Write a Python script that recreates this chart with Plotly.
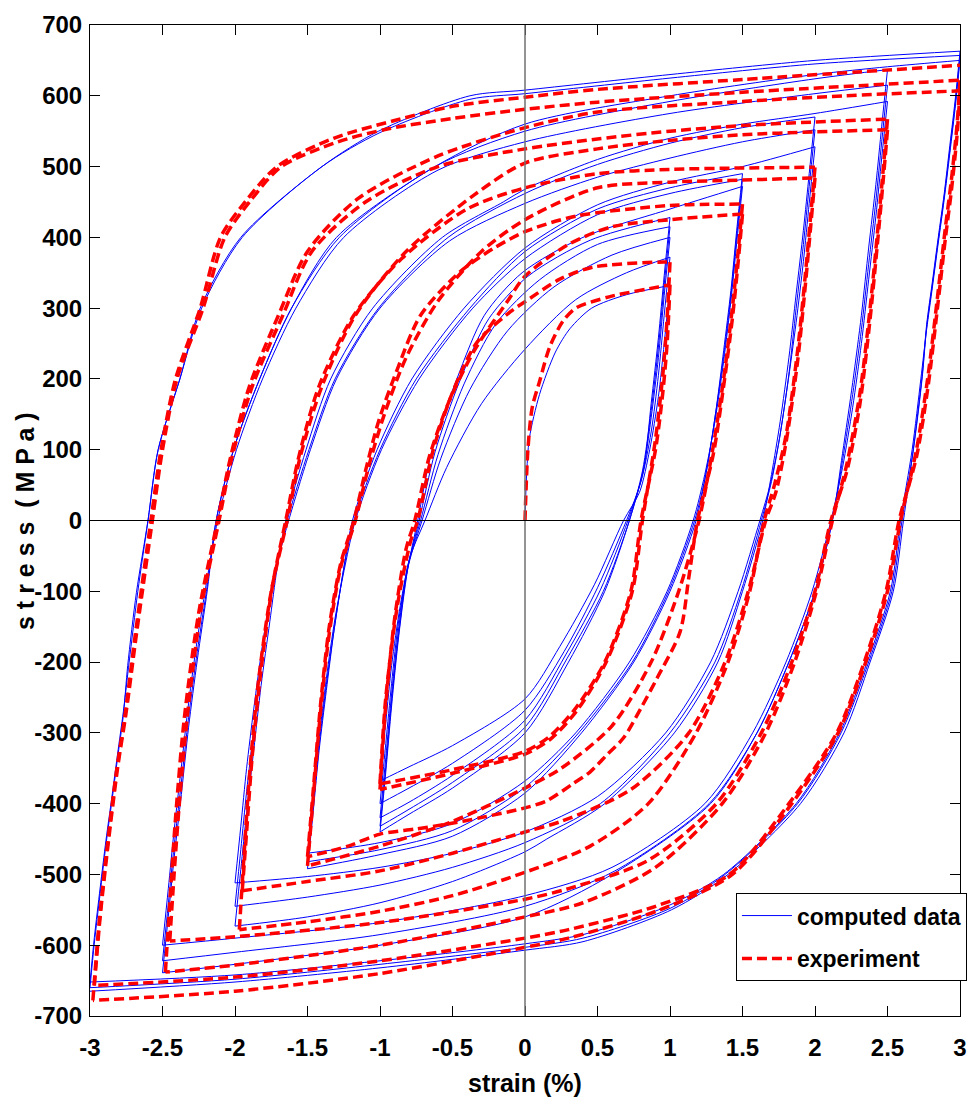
import plotly.graph_objects as go

# ---------------- computed data (blue), branches per strain amplitude ----------------
blue_amp_1 = [
    [(0, 0), (0.01, 60), (0.03, 116), (0.1, 178), (0.21, 238), (0.31, 271), (0.46, 300), (0.7, 319), (1, 332)],
    [(1, 332), (0.96, 250), (0.92, 175), (0.86, 100), (0.79, 40), (0.68, 0), (0.48, -90), (0.24, -178), (0, -252), (-0.5, -318), (-0.8, -348), (-1, -368)],
    [(-1, -368), (-0.96, -285), (-0.92, -205), (-0.86, -120), (-0.79, -50), (-0.69, 0), (-0.54, 75), (-0.3, 165), (0, 242), (0.35, 312), (0.7, 350), (1, 372)],
    [(1, 372), (0.96, 290), (0.92, 205), (0.87, 125), (0.8, 55), (0.7, 0), (0.5, -95), (0.27, -185), (0, -268), (-0.5, -343), (-0.8, -378), (-1, -400)],
    [(-1, -400), (-0.96, -315), (-0.92, -230), (-0.87, -140), (-0.8, -60), (-0.71, 0), (-0.58, 88), (-0.38, 185), (-0.12, 268), (0.2, 330), (0.6, 375), (1, 400)],
    [(1, 400), (0.96, 318), (0.92, 230), (0.87, 145), (0.81, 65), (0.71, 0), (0.52, -98), (0.28, -190), (0, -282), (-0.5, -360), (-0.8, -398), (-1, -420)],
    [(-1, -420), (-0.96, -335), (-0.92, -245), (-0.87, -150), (-0.81, -65), (-0.72, 0), (-0.6, 93), (-0.42, 193), (-0.2, 278), (0.1, 340), (0.5, 390), (1, 415)],
    [(1, 415), (0.96, 333), (0.92, 245), (0.87, 155), (0.81, 70), (0.72, 0), (0.54, -100), (0.29, -195), (0, -292), (-0.5, -370), (-0.8, -408), (-1, -432)],
    [(-1, -432), (-0.96, -348), (-0.92, -255), (-0.87, -158), (-0.81, -68), (-0.73, 0), (-0.62, 97), (-0.45, 197), (-0.25, 285), (0.02, 345), (0.45, 396), (1, 428)],
    [(1, 428), (0.96, 346), (0.92, 258), (0.87, 165), (0.82, 75), (0.72, 0), (0.55, -100), (0.3, -200), (0, -300), (-0.5, -378), (-0.8, -415), (-1, -440)],
    [(-1, -440), (-0.96, -355), (-0.92, -262), (-0.87, -162), (-0.81, -70), (-0.74, 0), (-0.64, 100), (-0.47, 200), (-0.28, 290), (-0.02, 350), (0.4, 400), (1, 440), (1.5, 472)],
]
blue_amp_15 = [
    [(1.5, 472), (1.46, 392), (1.42, 310), (1.37, 225), (1.31, 140), (1.24, 65), (1.16, 0), (0.98, -100), (0.72, -200), (0.35, -300), (0, -368), (-0.5, -428), (-1, -455), (-1.5, -470)],
    [(-1.5, -470), (-1.46, -390), (-1.42, -308), (-1.37, -223), (-1.31, -138), (-1.24, -63), (-1.17, 0), (-0.99, 100), (-0.73, 200), (-0.36, 300), (0, 370), (0.5, 432), (1, 462), (1.5, 482)],
    [(1.5, 482), (1.46, 402), (1.42, 318), (1.37, 232), (1.31, 145), (1.25, 68), (1.17, 0), (0.99, -100), (0.74, -200), (0.37, -300), (0, -377), (-0.5, -438), (-1, -465), (-1.5, -482)],
    [(-1.5, -482), (-1.46, -402), (-1.42, -318), (-1.37, -232), (-1.31, -145), (-1.25, -68), (-1.18, 0), (-1.0, 100), (-0.75, 200), (-0.38, 300), (0, 380), (0.5, 440), (1, 470), (1.5, 490)],
    [(1.5, 490), (1.46, 410), (1.42, 325), (1.37, 240), (1.32, 160), (1.26, 80), (1.18, 0), (1.0, -100), (0.75, -200), (0.39, -300), (0, -385), (-0.5, -446), (-1, -472), (-1.5, -492)],
    [(-1.5, -492), (-1.46, -410), (-1.42, -325), (-1.37, -240), (-1.32, -160), (-1.26, -80), (-1.19, 0), (-1.02, 100), (-0.78, 200), (-0.42, 300), (0, 385), (0.5, 446), (1, 478), (1.5, 500), (2, 528)],
]
blue_amp_2 = [
    [(2, 528), (1.96, 448), (1.92, 366), (1.87, 280), (1.81, 190), (1.75, 110), (1.69, 50), (1.62, 0), (1.47, -100), (1.28, -200), (0.97, -300), (0.5, -390), (0, -440), (-0.5, -470), (-1, -490), (-1.5, -503), (-2, -512)],
    [(-2, -512), (-1.96, -432), (-1.92, -350), (-1.87, -265), (-1.81, -175), (-1.75, -100), (-1.69, -45), (-1.63, 0), (-1.48, 100), (-1.3, 200), (-1.0, 300), (-0.52, 395), (0, 448), (0.5, 485), (1, 512), (1.5, 535), (2, 552)],
    [(2, 552), (1.96, 472), (1.92, 390), (1.87, 300), (1.82, 207), (1.76, 122), (1.7, 55), (1.63, 0), (1.49, -100), (1.31, -200), (1.0, -300), (0.52, -400), (0, -455), (-0.5, -490), (-1, -515), (-1.5, -532), (-2, -545)],
    [(-2, -545), (-1.96, -465), (-1.92, -383), (-1.87, -293), (-1.82, -200), (-1.76, -118), (-1.7, -52), (-1.64, 0), (-1.49, 100), (-1.31, 200), (-1.01, 300), (-0.53, 400), (0, 462), (0.5, 503), (1, 533), (1.5, 555), (2, 570)],
    [(2, 570), (1.96, 490), (1.92, 410), (1.87, 320), (1.82, 230), (1.76, 140), (1.7, 65), (1.64, 0), (1.5, -100), (1.33, -200), (1.03, -300), (0.55, -400), (0.15, -450), (0, -468), (-0.5, -510), (-1, -540), (-1.5, -560), (-2, -573)],
    [(-2, -573), (-1.96, -493), (-1.92, -413), (-1.87, -323), (-1.82, -233), (-1.76, -143), (-1.71, -68), (-1.65, 0), (-1.51, 100), (-1.34, 200), (-1.05, 300), (-0.57, 400), (-0.15, 450), (0, 468), (0.5, 510), (1, 540), (1.5, 560), (2, 575), (2.5, 592)],
]
blue_amp_25 = [
    [(2.5, 592), (2.46, 512), (2.42, 430), (2.37, 340), (2.32, 250), (2.26, 160), (2.19, 75), (2.11, 0), (1.98, -100), (1.8, -200), (1.57, -300), (1.24, -400), (0.6, -490), (0, -530), (-1, -568), (-2, -590), (-2.5, -600)],
    [(-2.5, -600), (-2.46, -520), (-2.42, -438), (-2.37, -348), (-2.32, -258), (-2.26, -168), (-2.19, -80), (-2.12, 0), (-1.99, 100), (-1.81, 200), (-1.58, 300), (-1.25, 400), (-0.6, 495), (0, 535), (1, 575), (2, 603), (2.5, 615)],
    [(2.5, 615), (2.46, 535), (2.42, 452), (2.37, 362), (2.32, 270), (2.26, 178), (2.19, 85), (2.12, 0), (2.0, -100), (1.82, -200), (1.6, -300), (1.27, -400), (0.62, -495), (0, -545), (-1, -585), (-2, -610), (-2.5, -622)],
    [(-2.5, -622), (-2.46, -542), (-2.42, -460), (-2.37, -370), (-2.32, -278), (-2.26, -185), (-2.19, -90), (-2.13, 0), (-2.01, 100), (-1.83, 200), (-1.61, 300), (-1.28, 400), (-0.62, 500), (0, 550), (1, 592), (2, 624), (2.5, 637)],
    [(2.5, 637), (2.46, 557), (2.42, 475), (2.37, 385), (2.32, 290), (2.26, 195), (2.19, 95), (2.12, 0), (2.0, -100), (1.82, -200), (1.6, -300), (1.28, -400), (0.6, -500), (0, -560), (-1, -600), (-2, -627), (-2.5, -639)],
    [(-2.5, -639), (-2.46, -559), (-2.42, -477), (-2.37, -387), (-2.32, -292), (-2.26, -197), (-2.19, -97), (-2.13, 0), (-2.01, 100), (-1.83, 200), (-1.61, 300), (-1.3, 400), (-0.62, 500), (0, 560), (1, 600), (2, 630), (2.5, 641), (3, 650)],
]
blue_amp_3 = [
    [(3, 650), (2.97, 589), (2.93, 519), (2.89, 452), (2.85, 392), (2.81, 330), (2.77, 270), (2.73, 200), (2.67, 100), (2.59, 0), (2.52, -100), (2.36, -200), (2.17, -300), (1.87, -400), (1.37, -500), (0.98, -545), (0.4, -585), (0, -598), (-1, -622), (-2, -642), (-3, -652)],
    [(-3, -652), (-2.97, -589), (-2.93, -519), (-2.89, -452), (-2.85, -392), (-2.81, -330), (-2.77, -270), (-2.73, -200), (-2.67, -100), (-2.6, 0), (-2.53, 100), (-2.38, 200), (-2.23, 300), (-1.95, 400), (-1.4, 500), (-1.0, 548), (-0.38, 595), (0, 603), (1, 625), (2, 645), (3, 657)],
    [(3, 657), (2.97, 594), (2.93, 524), (2.89, 456), (2.85, 396), (2.81, 334), (2.77, 273), (2.74, 203), (2.68, 102), (2.6, 0), (2.53, -100), (2.37, -200), (2.18, -300), (1.88, -400), (1.38, -500), (1.0, -548), (0.4, -590), (0, -603), (-1, -627), (-2, -648), (-3, -660)],
    [(-3, -660), (-2.97, -597), (-2.93, -527), (-2.89, -458), (-2.85, -398), (-2.81, -336), (-2.77, -275), (-2.74, -205), (-2.68, -102), (-2.6, 0), (-2.53, 100), (-2.38, 200), (-2.24, 300), (-1.96, 400), (-1.4, 500), (-1.01, 550), (-0.38, 600), (0, 608), (1, 630), (2, 650), (3, 663)],
    [(3, 663), (2.97, 600), (2.93, 530), (2.89, 460), (2.85, 400), (2.81, 338), (2.77, 277), (2.74, 207), (2.68, 104), (2.61, 0), (2.54, -100), (2.38, -200), (2.2, -300), (1.9, -400), (1.4, -500), (1.01, -550), (0.4, -595), (0, -607), (-1, -632), (-2, -652), (-3, -665)],
]

# ---------------- experiment (red dashed), branches per strain amplitude ----------------
red_amp_1 = [
    [(0, 0), (0.02, 100), (0.05, 160), (0.1, 196), (0.17, 245), (0.26, 281), (0.35, 300), (0.58, 316), (0.92, 330), (1, 333)],
    [(1, 333), (0.98, 250), (0.95, 180), (0.9, 100), (0.8, 0), (0.73, -100), (0.55, -200), (0.35, -265), (0.17, -305), (0, -326), (-0.5, -352), (-1, -372)],
    [(-1, -372), (-0.96, -250), (-0.88, -120), (-0.79, -30), (-0.74, 0), (-0.63, 102), (-0.49, 186), (-0.33, 252), (-0.1, 295), (0, 309), (0.24, 341), (0.47, 358), (0.92, 365), (1, 365)],
    [(1, 365), (0.98, 285), (0.95, 205), (0.9, 115), (0.81, 0), (0.74, -100), (0.56, -200), (0.36, -268), (0.18, -308), (0, -330), (-0.5, -357), (-1, -380)],
]
red_amp_15 = [
    [(-1, -380), (-0.96, -260), (-0.9, -140), (-0.82, -40), (-0.76, 0), (-0.66, 90), (-0.52, 170), (-0.35, 240), (-0.12, 310), (0, 345), (0.3, 390), (0.6, 415), (1, 425), (1.5, 433)],
    [(1.5, 433), (1.47, 365), (1.43, 285), (1.37, 190), (1.3, 95), (1.19, 0), (1.13, -80), (1.07, -157), (0.91, -223), (0.8, -265), (0.68, -307), (0.57, -330), (0.45, -355), (0.33, -372), (0.15, -396), (0, -406), (-0.31, -420), (-0.54, -429), (-0.76, -436), (-1, -443), (-1.22, -460), (-1.5, -475)],
    [(-1.5, -475), (-1.46, -380), (-1.41, -260), (-1.35, -150), (-1.27, -60), (-1.18, 0), (-1.1, 70), (-1.01, 140), (-0.88, 214), (-0.72, 290), (-0.45, 351), (-0.22, 384), (0, 408), (0.35, 430), (1, 445), (1.5, 447)],
    [(1.5, 447), (1.47, 380), (1.43, 300), (1.37, 200), (1.29, 95), (1.2, 0), (1.06, -100), (0.87, -200), (0.6, -290), (0.25, -350), (0, -378), (-0.5, -425), (-1, -460), (-1.5, -488)],
]
red_amp_2 = [
    [(-1.5, -488), (-1.46, -390), (-1.41, -270), (-1.35, -160), (-1.27, -65), (-1.17, 0), (-1.08, 75), (-0.97, 150), (-0.82, 230), (-0.6, 310), (-0.3, 380), (0, 425), (0.5, 470), (1, 478), (1.5, 481), (2, 484)],
    [(2, 484), (1.97, 415), (1.93, 325), (1.88, 225), (1.8, 110), (1.73, 40), (1.66, 0), (1.54, -100), (1.38, -200), (1.13, -300), (0.73, -380), (0.25, -425), (0, -440), (-0.5, -470), (-1, -495), (-1.5, -510), (-1.95, -523)],
    [(-1.95, -523), (-1.92, -440), (-1.88, -330), (-1.82, -210), (-1.74, -90), (-1.65, 0), (-1.56, 90), (-1.42, 190), (-1.18, 290), (-0.85, 370), (-0.4, 440), (0, 470), (0.5, 490), (1, 496), (1.5, 498), (2, 499)],
    [(2, 499), (1.97, 430), (1.93, 340), (1.88, 240), (1.8, 120), (1.72, 50), (1.65, 0), (1.55, -100), (1.4, -200), (1.18, -300), (0.85, -400), (0.45, -460), (0, -497), (-0.5, -530), (-1, -552), (-1.5, -567), (-1.97, -578)],
]
red_amp_25 = [
    [(-1.97, -578), (-1.94, -480), (-1.9, -360), (-1.84, -230), (-1.75, -100), (-1.64, 0), (-1.55, 90), (-1.4, 190), (-1.17, 290), (-0.82, 380), (-0.35, 460), (0, 505), (0.5, 525), (1, 537), (1.5, 545), (2, 549), (2.5, 552)],
    [(2.5, 552), (2.47, 480), (2.43, 390), (2.38, 285), (2.31, 165), (2.22, 70), (2.11, 0), (2.0, -100), (1.84, -200), (1.63, -300), (1.32, -400), (0.85, -480), (0.3, -520), (0, -535), (-1, -568), (-2, -588), (-2.45, -594)],
    [(-2.45, -594), (-2.42, -500), (-2.38, -390), (-2.32, -260), (-2.23, -120), (-2.11, 0), (-2.02, 90), (-1.88, 190), (-1.67, 290), (-1.47, 380), (-1.1, 450), (-0.6, 500), (0, 525), (0.5, 539), (1, 550), (1.5, 558), (2, 563), (2.5, 567)],
    [(2.5, 567), (2.47, 495), (2.43, 405), (2.38, 300), (2.31, 180), (2.22, 80), (2.12, 0), (2.01, -100), (1.86, -200), (1.66, -300), (1.36, -400), (0.9, -490), (0.4, -540), (0, -560), (-1, -600), (-2, -628), (-2.48, -638)],
]
red_amp_3 = [
    [(-2.48, -638), (-2.45, -540), (-2.41, -420), (-2.35, -280), (-2.25, -130), (-2.12, 0), (-2.03, 90), (-1.9, 190), (-1.7, 290), (-1.5, 380), (-1.15, 455), (-0.6, 515), (0, 555), (0.5, 577), (1.5, 592), (2.2, 600), (3, 607)],
    [(3, 607), (2.98, 545), (2.94, 465), (2.9, 400), (2.85, 310), (2.78, 190), (2.7, 90), (2.58, 0), (2.49, -100), (2.34, -200), (2.15, -300), (1.82, -400), (1.41, -500), (0.9, -545), (0.3, -578), (0, -590), (-1, -622), (-2, -645), (-2.97, -657)],
    [(-2.97, -657), (-2.93, -560), (-2.88, -466), (-2.81, -350), (-2.75, -270), (-2.68, -161), (-2.57, 0), (-2.5, 100), (-2.4, 200), (-2.22, 300), (-2.07, 400), (-1.9, 450), (-1.68, 500), (-1.29, 535), (-0.95, 553), (-0.5, 568), (0, 581), (0.5, 591), (1.5, 605), (3, 622)],
    [(3, 622), (2.98, 560), (2.94, 480), (2.9, 415), (2.85, 325), (2.78, 205), (2.7, 100), (2.59, 0), (2.5, -100), (2.35, -200), (2.16, -300), (1.84, -400), (1.43, -500), (0.93, -550), (0.3, -590), (0, -603), (-1, -640), (-2, -665), (-2.98, -678)],
    [(-2.98, -678), (-2.94, -575), (-2.89, -476), (-2.82, -358), (-2.76, -277), (-2.69, -165), (-2.58, 0), (-2.51, 100), (-2.41, 200), (-2.24, 300), (-2.1, 400), (-1.93, 450), (-1.71, 500), (-1.32, 540), (-0.9, 565), (-0.5, 585), (0, 598), (0.5, 609), (1.5, 623), (3, 643)],
]

x_tick_vals = [-3, -2.5, -2, -1.5, -1, -0.5, 0, 0.5, 1, 1.5, 2, 2.5, 3]
x_tick_text = ["-3", "-2.5", "-2", "-1.5", "-1", "-0.5", "0", "0.5", "1", "1.5", "2", "2.5", "3"]
y_tick_vals = [-700, -600, -500, -400, -300, -200, -100, 0, 100, 200, 300, 400, 500, 600, 700]
y_tick_text = [str(v) for v in y_tick_vals]


def build(groups):
    xs, ys = [], []
    for branches in groups:
        for br in branches:
            for (px, py) in br:
                xs.append(px)
                ys.append(py)
            xs.append(None)
            ys.append(None)
    return xs, ys


bx, by = build([blue_amp_1, blue_amp_15, blue_amp_2, blue_amp_25, blue_amp_3])
rx, ry = build([red_amp_1, red_amp_15, red_amp_2, red_amp_25, red_amp_3])

FONT = "Liberation Sans, Arial, sans-serif"

fig = go.Figure()
fig.add_trace(go.Scatter(
    x=bx, y=by, mode="lines", name="computed data", legendgroup="a",
    line=dict(color="#0000FF", width=1, shape="spline", smoothing=0.8),
    connectgaps=False,
))
fig.add_trace(go.Scatter(
    x=rx, y=ry, mode="lines", name="experiment", legendgroup="b",
    line=dict(color="#FF0000", width=3.5, dash="10px,5px", shape="spline", smoothing=0.8),
    connectgaps=False,
))

# zero lines drawn over the curves
fig.add_shape(type="line", xref="x", yref="paper", x0=0, x1=0, y0=0, y1=1,
              line=dict(color="#707070", width=1.5), layer="above")
fig.add_shape(type="line", xref="paper", yref="y", x0=0, x1=1, y0=0, y1=0,
              line=dict(color="#000000", width=1), layer="above")

axis_common = dict(
    showline=True, linecolor="black", linewidth=1, mirror="ticks",
    ticks="inside", ticklen=10, tickcolor="black", tickwidth=1,
    showgrid=False, zeroline=False,
    tickfont=dict(family=FONT, size=24, color="black", weight="bold"),
)

fig.update_layout(
    width=978, height=1104,
    margin=dict(l=90, r=11, t=23, b=88),
    paper_bgcolor="white", plot_bgcolor="white",
    xaxis=dict(range=[-3, 3], tickvals=x_tick_vals, ticktext=x_tick_text,
               ticklabelstandoff=10, **axis_common),
    yaxis=dict(range=[-700, 700], tickvals=y_tick_vals, ticktext=y_tick_text,
               ticklabelstandoff=2, **axis_common),
    showlegend=True,
    legend=dict(
        x=1.008, xanchor="right", y=0.124, yanchor="top",
        bgcolor="white", bordercolor="black", borderwidth=1,
        font=dict(family=FONT, size=23, color="black", weight="bold"),
        traceorder="grouped", tracegroupgap=10, itemwidth=50,
    ),
    annotations=[
        dict(text="strain (%)", xref="paper", yref="paper", x=0.5, y=-0.0675,
             xanchor="center", yanchor="middle", showarrow=False,
             font=dict(family=FONT, size=25, color="black", weight="bold")),
        dict(text="s t r e s s  ( M P a )", xref="paper", yref="paper", x=-0.0753, y=0.5,
             xanchor="center", yanchor="middle", showarrow=False, textangle=-90,
             font=dict(family=FONT, size=25, color="black", weight="bold")),
    ],
)

fig.write_html("out.html")
